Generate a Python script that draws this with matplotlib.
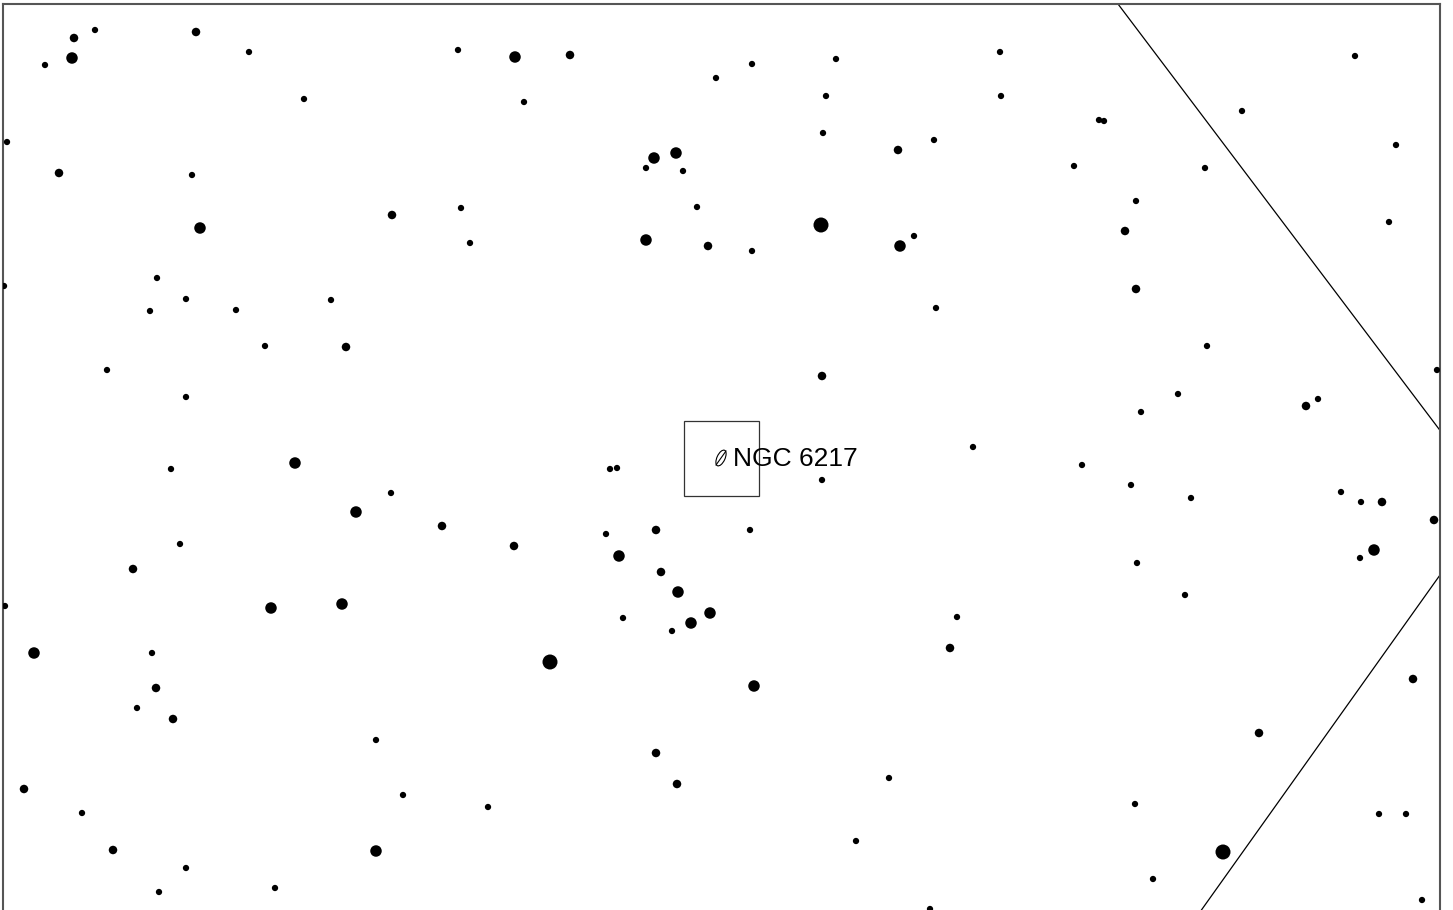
import matplotlib
matplotlib.use("Agg")
import matplotlib.pyplot as plt
from matplotlib.patches import Rectangle, Ellipse

# Star positions (chart coordinates, y grows downward) and magnitude classes
star_x = [95, 74, 45, 72, 196, 249, 304, 458, 515, 570, 524, 716, 752, 836, 826, 1000, 1001, 1355,
          7, 59, 192, 823, 654, 676, 646, 683, 898, 934, 1074, 1099, 1104, 1242, 1396, 1205,
          200, 392, 461, 470, 697, 646, 708, 752, 821, 900, 914, 1136, 1125, 1389,
          4, 157, 150, 186, 236, 331, 265, 346, 1136, 936, 107, 186, 822, 1207, 1178, 1141, 1306, 1318, 1437,
          295, 171, 610, 617, 822, 973, 1082, 1131, 1191, 1341, 1361, 1382, 1434,
          391, 356, 442, 514, 180, 606, 656, 750, 619, 1374, 1360, 1137,
          133, 661, 678, 710, 691, 672, 623, 271, 342, 5, 1185, 957, 950,
          34, 152, 550, 156, 754, 1413, 137, 173, 376, 1259, 656, 677, 889,
          24, 403, 488, 82, 1135, 1379, 1406, 856, 113, 376, 1223, 186, 1153, 159, 275, 1422, 930]
star_y = [30, 38, 65, 58, 32, 52, 99, 50, 57, 55, 102, 78, 64, 59, 96, 52, 96, 56,
          142, 173, 175, 133, 158, 153, 168, 171, 150, 140, 166, 120, 121, 111, 145, 168,
          228, 215, 208, 243, 207, 240, 246, 251, 225, 246, 236, 201, 231, 222,
          286, 278, 311, 299, 310, 300, 346, 347, 289, 308, 370, 397, 376, 346, 394, 412, 406, 399, 370,
          463, 469, 469, 468, 480, 447, 465, 485, 498, 492, 502, 502, 520,
          493, 512, 526, 546, 544, 534, 530, 530, 556, 550, 558, 563,
          569, 572, 592, 613, 623, 631, 618, 608, 604, 606, 595, 617, 648,
          653, 653, 662, 688, 686, 679, 708, 719, 740, 733, 753, 784, 778,
          789, 795, 807, 813, 804, 814, 814, 841, 850, 851, 852, 868, 879, 892, 888, 900, 909]
star_mag = [8, 7, 8, 6, 7, 8, 8, 8, 6, 7, 8, 8, 8, 8, 8, 8, 8, 8,
            8, 7, 8, 8, 6, 6, 8, 8, 7, 8, 8, 8, 8, 8, 8, 8,
            6, 7, 8, 8, 8, 6, 7, 8, 5, 6, 8, 8, 7, 8,
            8, 8, 8, 8, 8, 8, 8, 7, 7, 8, 8, 8, 7, 8, 8, 8, 7, 8, 8,
            6, 8, 8, 8, 8, 8, 8, 8, 8, 8, 8, 7, 7,
            8, 6, 7, 7, 8, 8, 7, 8, 6, 6, 8, 8,
            7, 7, 6, 6, 6, 8, 8, 6, 6, 8, 8, 8, 7,
            6, 8, 5, 7, 6, 7, 8, 7, 8, 7, 7, 7, 8,
            7, 8, 8, 8, 8, 8, 8, 8, 7, 6, 5, 8, 8, 8, 8, 8, 8]

# Constellation boundary segments
bound1_x = [1118, 1445]
bound1_y = [4, 437]
bound2_x = [1445, 1200]
bound2_y = [568, 912]

# Deep-sky object
dso_name = "NGC 6217"
dso_x, dso_y = 721, 458
box_x0, box_y0, box_x1, box_y1 = 684, 421, 759, 496

mag_to_diam = {5: 15.0, 6: 11.5, 7: 8.5, 8: 6.3}

W, H, DPI = 1453, 910, 100
fig = plt.figure(figsize=(W / DPI, H / DPI), dpi=DPI)
fig.patch.set_facecolor("white")
left, right, top, bottom = 3, 1440, 4, 910
ax = fig.add_axes([left / W, 1 - bottom / H, (right - left) / W, (bottom - top) / H])
ax.set_xlim(left, right)
ax.set_ylim(bottom, top)
ax.set_xticks([])
ax.set_yticks([])
for s in ("top", "left", "right"):
    ax.spines[s].set_color("#555555")
    ax.spines[s].set_linewidth(1.5)
ax.spines["bottom"].set_visible(False)

sizes = [(mag_to_diam[m] * 72 / DPI) ** 2 for m in star_mag]
ax.scatter(star_x, star_y, s=sizes, c="black", linewidths=0, zorder=3)

ax.plot(bound1_x, bound1_y, color="black", lw=0.9, zorder=2)
ax.plot(bound2_x, bound2_y, color="black", lw=0.9, zorder=2)

ax.add_patch(Rectangle((box_x0, box_y0), box_x1 - box_x0, box_y1 - box_y0,
                       fill=False, edgecolor="#333333", lw=0.9, zorder=2))
ax.add_patch(Ellipse((dso_x, dso_y), 8, 17, angle=25, fill=False,
                     edgecolor="black", lw=0.8, zorder=4))
ax.plot([dso_x - 5, dso_x + 5], [dso_y + 7, dso_y - 7], color="black", lw=0.8, zorder=4)
ax.text(dso_x + 12, dso_y + 1, dso_name, fontsize=19, family="Liberation Sans",
        va="center", ha="left", color="black", zorder=5)

fig.savefig("out.png", dpi=DPI, facecolor="white")
